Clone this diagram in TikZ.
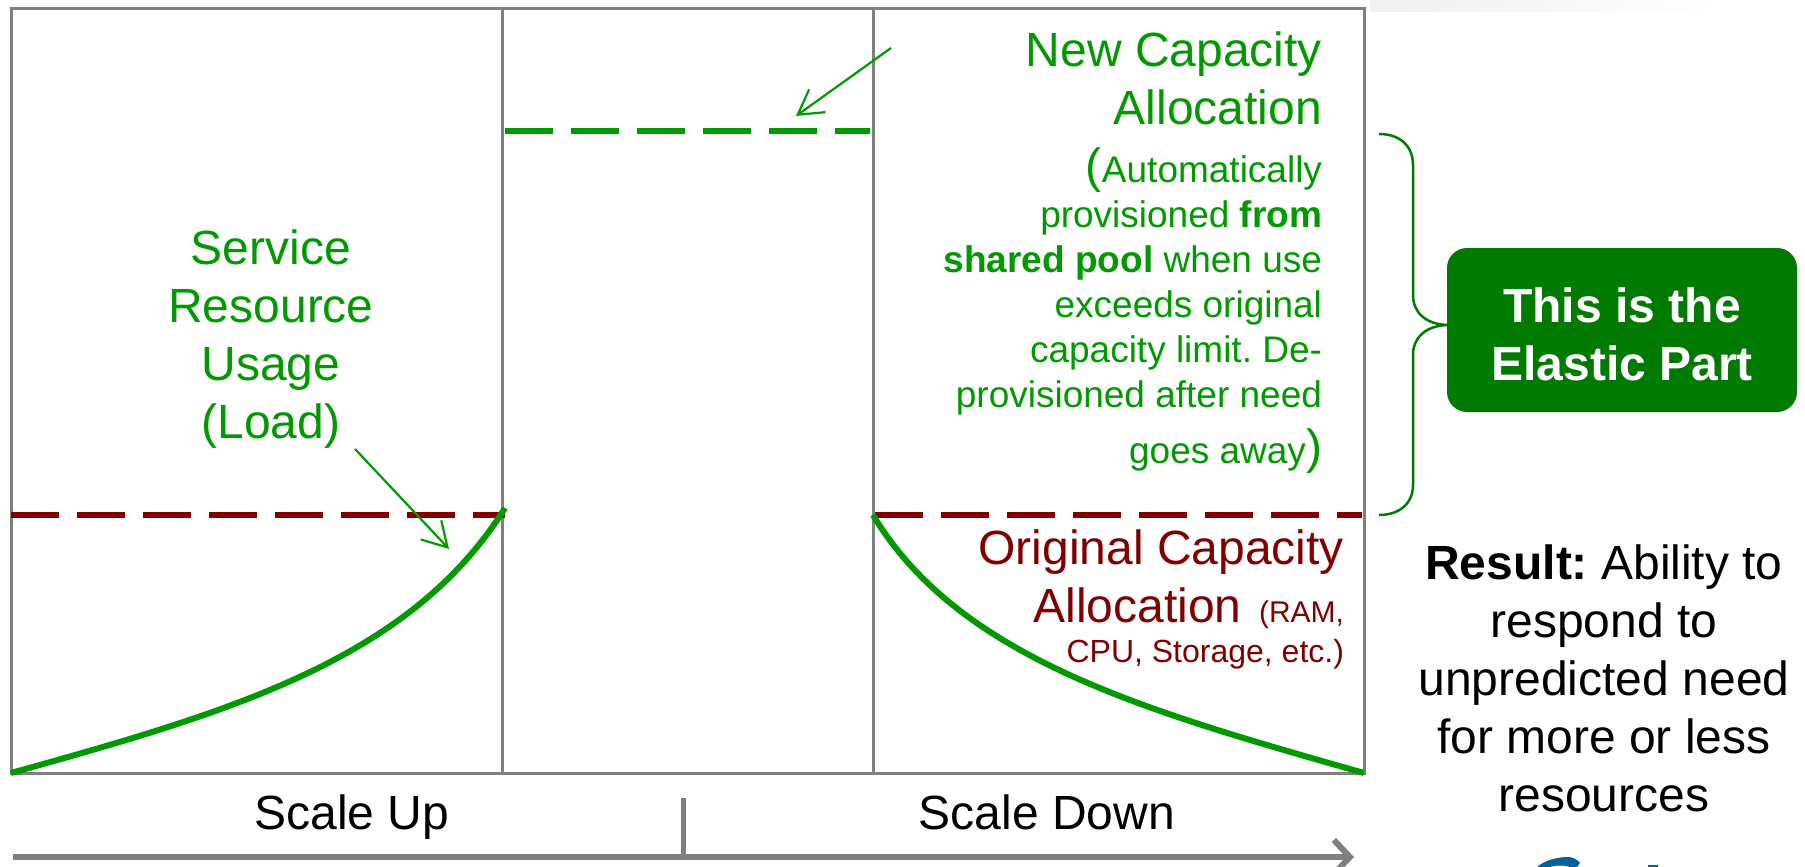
\documentclass[tikz,border=0pt]{standalone}
\usepackage{fontspec}
\setmainfont{Liberation Sans}
\usetikzlibrary{arrows.meta}
\definecolor{loadgreen}{RGB}{0,153,0}
\definecolor{capred}{RGB}{128,0,0}
\definecolor{elasticgreen}{RGB}{0,122,0}
\definecolor{framegray}{RGB}{128,128,128}
\definecolor{logoblue}{RGB}{0,97,160}
\tikzset{
  frameline/.style={draw=framegray, line width=3pt},
  loadcurve/.style={draw=loadgreen, line width=6pt},
  newcap/.style={draw=loadgreen, line width=6pt, dash pattern=on 48pt off 18pt},
  oldcap/.style={draw=capred, line width=6pt, dash pattern=on 48pt off 18pt},
  thinarrow/.style={draw=loadgreen, line width=2.2pt, -{Straight Barb[length=24pt,width=28pt,line width=2.2pt]}},
  timearrow/.style={draw=framegray, line width=6pt},
  every node/.style={inner sep=0pt, outer sep=0pt},
  biglabel/.style={font=\fontsize{48}{58}\selectfont, align=center},
  rightlabel/.style={align=right, text=loadgreen, font=\fontsize{37}{44.9}\selectfont},
}
\frenchspacing
\begin{document}
\begin{tikzpicture}[x=1pt, y=-1pt]
\useasboundingbox (0,0) rectangle (1805,867);
\shade[left color=black!6, right color=white] (1370,0) rectangle (1720,12);
\coordinate (LB) at (11,773);
\coordinate (LT) at (11,9);
\coordinate (RB) at (1364,773);
\coordinate (RT) at (1364,9);
\coordinate (M1B) at (502,773);
\coordinate (M1T) at (502,9);
\coordinate (M2B) at (873,773);
\coordinate (M2T) at (873,9);
\draw[frameline] (LT) -- (RT) -- (RB) -- (LB) -- cycle;
\draw[frameline] (M1T) -- (M1B);
\draw[frameline] (M2T) -- (M2B);
% capacity lines
\coordinate (N1) at (505,131);
\coordinate (N2) at (870,131);
\coordinate (O1) at (11,515);
\coordinate (O2) at (505,515);
\coordinate (O3) at (875,515);
\coordinate (O4) at (1362,515);
\draw[newcap] (N1) -- (N2);
\draw[oldcap] (O1) -- (O2);
\draw[oldcap] (O3) -- (O4);
% load curves
\coordinate (C1) at (505,508);
\coordinate (C2) at (873,515);
\draw[loadcurve] (LB) .. controls (230,712) and (410,660) .. (C1);
\draw[loadcurve] (C2) .. controls (960,660) and (1150,712) .. (RB);
% labels
\node[biglabel, text=loadgreen] (SERVICE) at (271,339) {Service\\Resource\\Usage\\(Load)};
\node[biglabel, text=loadgreen, align=right, anchor=north east] (NEWCAP) at (1322,32) {New Capacity\\Allocation};
\node[rightlabel, anchor=north east] (AUTO) at (1322,148) {{\fontsize{48}{48}\selectfont (}Automatically\\provisioned \textbf{from}\\\textbf{shared pool} when use\\exceeds original\\capacity limit. De-\\provisioned after need\\[11pt]goes away{\fontsize{48}{48}\selectfont )}};
\node[anchor=north east, align=right, text=capred, font=\fontsize{48}{58}\selectfont] (ORIG) at (1344,530) {Original Capacity\\Allocation\hspace{4pt} {\fontsize{30}{40}\selectfont (RAM,}};
\node[anchor=north east, text=capred, font=\fontsize{32}{40}\selectfont] (ORIG2) at (1344,639) {CPU, Storage, etc.)};
\node[anchor=base, font=\fontsize{48}{58}\selectfont] (UP) at (352,829) {Scale Up};
\node[anchor=base, font=\fontsize{48}{58}\selectfont] (DOWN) at (1047,829) {Scale Down};
\node[font=\fontsize{48}{58}\selectfont, align=center] (RESULT) at (1604,678) {\textbf{Result:} Ability to\\respond to\\unpredicted need\\for more or less\\resources};
\node[fill=elasticgreen, rounded corners=20pt, minimum width=350pt, minimum height=164pt, align=center, text=white, font=\fontsize{48}{58}\selectfont\bfseries] (ELASTIC) at (1622,330) {\rule{0pt}{44pt}This is the\\Elastic Part};
% pointers
\coordinate (A1) at (891,48);
\coordinate (A2) at (796,116);
\coordinate (B1) at (355,449);
\coordinate (B2) at (449,549);
\draw[thinarrow] (A1) -- (A2);
\draw[thinarrow] (B1) -- (B2);
% brace
\coordinate (BR1) at (1379,134);
\coordinate (BR2) at (1379,515);
\coordinate (BM) at (1447,325);
\draw[elasticgreen, line width=2.5pt] (BR1) .. controls (1400,134) and (1413,146) .. (1413,165)
  -- (1413,295) .. controls (1413,312) and (1425,324) .. (BM)
  .. controls (1425,326) and (1413,338) .. (1413,355)
  -- (1413,485) .. controls (1413,503) and (1400,515) .. (BR2);
% bottom axis
\coordinate (T0) at (13,857);
\coordinate (T1) at (1354,857);
\coordinate (T2) at (683,798);
\coordinate (T3) at (683,857);
\draw[timearrow, -{Straight Barb[length=16pt,width=34pt,line width=6pt]}] (T0) -- (T1);
\draw[framegray, line width=5pt] (T2) -- (T3);
% logo, cut by the edge
\fill[logoblue] (1537,867) .. controls (1545,860) and (1558,857) .. (1568,857) .. controls (1572,857) and (1577,859) .. (1580,863) -- (1577,867) -- (1570,867) .. controls (1565,865) and (1555,865) .. (1550,867) -- cycle;
\fill[logoblue] (1648,865) rectangle (1658,867);
\end{tikzpicture}
\end{document}
